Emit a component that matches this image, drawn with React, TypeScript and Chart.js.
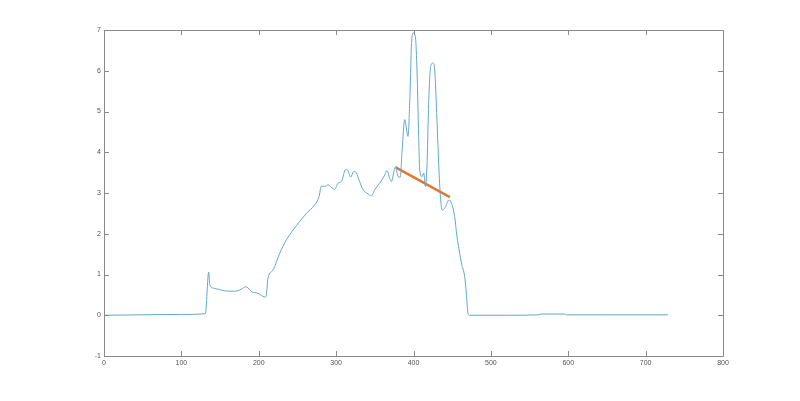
import React, { useEffect, useRef } from "react";
import { Chart, registerables } from "chart.js";

Chart.register(...registerables);

// Measured signal (x, y)
const signalX = [
  0, 50, 100, 131, 135.3, 136.8, 142.7, 155.6, 168.5, 177.6, 183.1, 186.1, 190.5, 199, 207.7,
  209.4, 211.9, 218.4, 227.1, 235.7, 244.3, 252.9, 261.6, 272.3, 277.9, 280.9, 285.2, 289.5,
  293.9, 298.1, 302.4, 306.8, 312.4, 315.3, 318.8, 322.7, 326.2, 330.4, 334.7, 341.2, 345.6,
  349.8, 356.3, 362.8, 365.7, 369.2, 371.4, 375.7, 377, 380, 383, 385.1, 388.6, 392.9, 395.1,
  397.3, 399.3, 402.4, 404.5, 406.7, 408, 411, 413.2, 415.4, 417.4, 419.6, 422.2, 425.2, 427.4,
  430.3, 432.9, 435.1, 437.3, 441.6, 445.9, 449, 453.2, 456.2, 459, 461.9, 466.1, 468.3, 470.4,
  472.6, 520, 562, 565, 595, 598, 650, 729,
];
const signalY = [
  0.0, 0.01, 0.02, 0.04, 1.06, 0.74, 0.66, 0.6, 0.59, 0.64, 0.7, 0.67, 0.58, 0.54, 0.45,
  0.46, 0.91, 1.11, 1.52, 1.85, 2.09, 2.3, 2.5, 2.71, 2.91, 3.17, 3.16, 3.2,
  3.14, 3.09, 3.24, 3.28, 3.58, 3.55, 3.39, 3.53, 3.49, 3.28, 3.08, 2.98, 2.93,
  3.08, 3.24, 3.44, 3.55, 3.36, 3.28, 3.61, 3.65, 3.4, 3.39, 3.99, 4.8, 4.39, 5.21,
  6.6, 6.93, 6.84, 6.02, 4.39, 3.57, 3.4, 3.49, 3.16, 3.65, 5.21, 6.11, 6.19, 6.02,
  4.8, 3.57, 2.83, 2.58, 2.67, 2.83, 2.75, 2.42, 1.93, 1.6, 1.28, 0.95, 0.54, 0.05,
  0.0, 0.0, 0.01, 0.03, 0.03, 0.01, 0.01, 0.01,
];

// Fitted segment
const fitX = [377, 447];
const fitY = [3.63, 2.9];

const xTickMin = 0;
const xTickMax = 800;
const xTickStep = 100;
const yTickMin = -1;
const yTickMax = 7;
const yTickStep = 1;

const boxPlugin = {
  id: "matlabBox",
  afterDatasetsDraw(chart: any) {
    const { ctx, chartArea } = chart;
    const { left, right, top, bottom } = chartArea;
    const xs = chart.scales.x;
    const ys = chart.scales.y;
    const tl = 5;
    ctx.save();
    ctx.strokeStyle = "#8a8a8a";
    ctx.lineWidth = 1;
    ctx.beginPath();
    ctx.rect(Math.round(left) + 0.5, Math.round(top) + 0.5, Math.round(right - left), Math.round(bottom - top));
    ctx.stroke();
    ctx.beginPath();
    xs.ticks.forEach((t: any) => {
      const px = Math.round(xs.getPixelForValue(t.value)) + 0.5;
      ctx.moveTo(px, bottom);
      ctx.lineTo(px, bottom - tl);
      ctx.moveTo(px, top);
      ctx.lineTo(px, top + tl);
    });
    ys.ticks.forEach((t: any) => {
      const py = Math.round(ys.getPixelForValue(t.value)) + 0.5;
      ctx.moveTo(left, py);
      ctx.lineTo(left + tl, py);
      ctx.moveTo(right, py);
      ctx.lineTo(right - tl, py);
    });
    ctx.stroke();
    ctx.restore();
  },
};

export default function App() {
  const ref = useRef<HTMLCanvasElement | null>(null);

  useEffect(() => {
    document.body.style.margin = "0";
    const canvas = ref.current;
    if (!canvas) return;
    const signal = signalX.map((x, i) => ({ x, y: signalY[i] }));
    const fit = fitX.map((x, i) => ({ x, y: fitY[i] }));
    const tickFont = { family: "'Liberation Sans', Arial, sans-serif", size: 7 };
    const chart = new Chart(canvas, {
      type: "line",
      data: {
        datasets: [
          {
            data: signal,
            borderColor: "#62a7ca",
            borderWidth: 1,
            pointRadius: 0,
            cubicInterpolationMode: "monotone",
            fill: false,
          },
          {
            data: fit,
            borderColor: "#e4762f",
            borderWidth: 2.5,
            pointRadius: 0,
            fill: false,
          },
        ],
      },
      options: {
        responsive: false,
        animation: false,
        devicePixelRatio: 1,
        layout: { padding: { top: 30, right: 77, left: 0, bottom: 0 } },
        plugins: { legend: { display: false }, tooltip: { enabled: false } },
        scales: {
          x: {
            type: "linear",
            min: xTickMin,
            max: xTickMax,
            grid: { display: false, drawTicks: false },
            border: { display: false },
            ticks: { stepSize: xTickStep, font: tickFont, color: "#555", padding: 3, maxRotation: 0 },
            afterFit: (s: any) => {
              s.height = 45;
            },
          },
          y: {
            type: "linear",
            min: yTickMin,
            max: yTickMax,
            grid: { display: false, drawTicks: false },
            border: { display: false },
            ticks: { stepSize: yTickStep, font: tickFont, color: "#555", padding: 3 },
            afterFit: (s: any) => {
              s.width = 104;
            },
          },
        },
      },
      plugins: [boxPlugin],
    });
    return () => chart.destroy();
  }, []);

  return <canvas ref={ref} width={800} height={401} style={{ display: "block", width: 800, height: 401 }} />;
}
